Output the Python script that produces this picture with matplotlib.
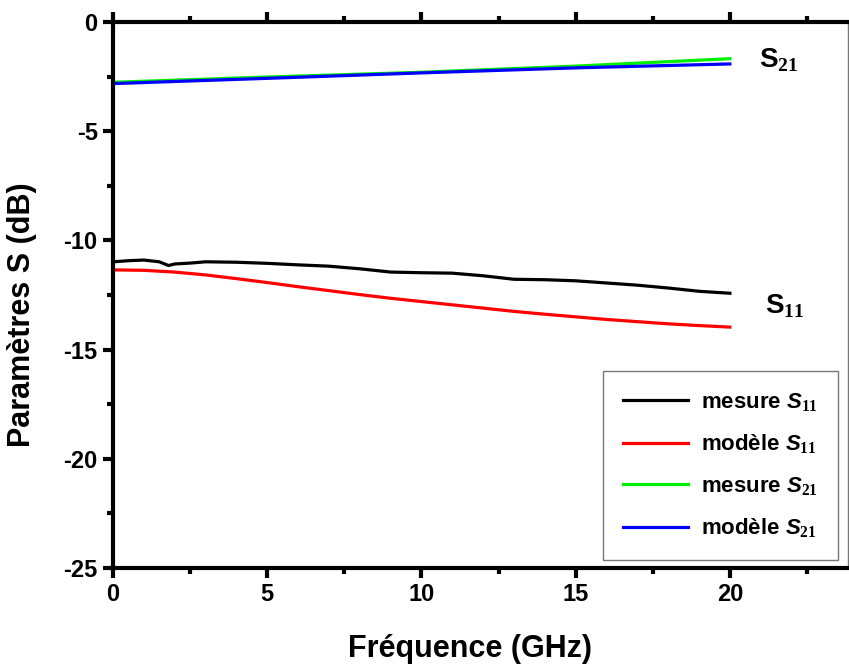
import matplotlib
matplotlib.use("Agg")
import matplotlib.pyplot as plt
from matplotlib.ticker import MultipleLocator

plt.rcParams['font.family'] = ['Liberation Sans', 'DejaVu Sans']
plt.rcParams['font.weight'] = 'bold'
plt.rcParams['axes.unicode_minus'] = False
plt.rcParams['mathtext.fontset'] = 'custom'
plt.rcParams['mathtext.rm'] = 'Liberation Serif'
plt.rcParams['mathtext.it'] = 'Liberation Sans:bold:italic'
plt.rcParams['mathtext.bf'] = 'Liberation Sans:bold'

# Data
freq_meas_s11 = [0, 0.5, 1.0, 1.5, 1.8, 2.0, 2.5, 3, 4, 5, 6, 7, 8, 9, 10, 11,
                 12, 13, 14, 15, 16, 17, 18, 19, 20]
mesure_s11 = [-10.98, -10.93, -10.9, -10.98, -11.15, -11.08, -11.04, -10.98,
              -11.0, -11.05, -11.12, -11.18, -11.3, -11.45, -11.48, -11.5,
              -11.62, -11.78, -11.8, -11.85, -11.95, -12.05, -12.18, -12.33, -12.42]
freq_model = [0, 1, 2, 3, 4, 5, 6, 7, 8, 9, 10, 11, 12, 13, 14, 15, 16, 17, 18, 19, 20]
modele_s11 = [-11.35, -11.37, -11.45, -11.58, -11.75, -11.93, -12.12, -12.3,
              -12.48, -12.65, -12.8, -12.95, -13.1, -13.25, -13.38, -13.5,
              -13.62, -13.72, -13.82, -13.9, -13.97]
freq_s21 = [0, 5, 10, 15, 20]
mesure_s21 = [-2.76, -2.52, -2.3, -2.02, -1.68]
modele_s21 = [-2.82, -2.58, -2.33, -2.1, -1.92]

fig = plt.figure(figsize=(8.49, 6.67), dpi=100)
ax = fig.add_axes([113/849, 99/667, (848-113)/849, (568-22)/667])

lw = 2.3
ax.plot(freq_meas_s11, mesure_s11, color='black', lw=lw, label=r'mesure $S_{11}$')
ax.plot(freq_model, modele_s11, color='#ff0000', lw=lw, label=r'modèle $S_{11}$')
ax.plot(freq_s21, mesure_s21, color='#00ee00', lw=lw, label=r'mesure $S_{21}$')
ax.plot(freq_s21, modele_s21, color='#0000ff', lw=lw, label=r'modèle $S_{21}$')

ax.set_xlim(0, 23.83)
ax.set_ylim(-25, 0)
ax.xaxis.set_major_locator(MultipleLocator(5))
ax.xaxis.set_minor_locator(MultipleLocator(2.5))
ax.yaxis.set_major_locator(MultipleLocator(5))
ax.yaxis.set_minor_locator(MultipleLocator(2.5))

for s in ['left', 'bottom', 'top']:
    ax.spines[s].set_linewidth(3)
ax.spines['right'].set_linewidth(1)
ax.spines['right'].set_color('#777777')

ax.tick_params(axis='x', which='both', direction='out', top=True, bottom=True,
               width=3)
ax.tick_params(axis='y', which='both', direction='out', left=True, right=False,
               width=3)
ax.tick_params(which='major', length=7, labelsize=17, pad=4)
ax.tick_params(which='minor', length=4)
for lab in ax.get_xticklabels() + ax.get_yticklabels():
    lab.set_fontweight('bold')

fig.text(470/849, 3/667, 'Fréquence (GHz)', ha='center', va='bottom',
         fontsize=22, fontweight='bold')
fig.text(22/849, 1 - 315/667, 'Paramètres S (dB)', ha='center', va='center',
         rotation=90, fontsize=22, fontweight='bold')

ax.text(20.95, -1.75, r'$\mathbf{S}_{21}$', fontsize=20, va='center', ha='left')
ax.text(21.15, -13.0, r'$\mathbf{S}_{11}$', fontsize=20, va='center', ha='left')

leg = ax.legend(loc='lower right', bbox_to_anchor=(1 - 10/735, 8/546),
                fontsize=16, frameon=True, fancybox=False, handlelength=2.9,
                labelspacing=0.85, borderpad=0.9, handletextpad=0.6,
                borderaxespad=0)
leg.get_frame().set_edgecolor('#555555')
leg.get_frame().set_linewidth(1)
for t in leg.get_texts():
    t.set_fontweight('bold')

fig.savefig('out.png', dpi=100)
